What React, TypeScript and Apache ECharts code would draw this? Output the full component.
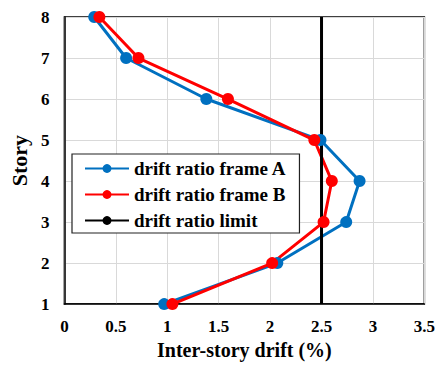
import React, { useEffect, useRef } from "react";
import * as echarts from "echarts";

const stories = [1, 2, 3, 4, 5, 6, 7, 8];
const driftA = [0.97, 2.07, 2.74, 2.87, 2.49, 1.38, 0.6, 0.29];
const driftB = [1.05, 2.02, 2.52, 2.6, 2.43, 1.59, 0.72, 0.34];
const limitX = [2.5, 2.5];
const limitY = [1, 8];
const xTicks = ["0", "0.5", "1", "1.5", "2", "2.5", "3", "3.5"];

const FONT = "Liberation Serif";

export default function App() {
  const ref = useRef<HTMLDivElement>(null);
  useEffect(() => {
    if (!ref.current) return;
    const chart = echarts.init(ref.current, null, { renderer: "svg" });
    const pair = (xs: number[], ys: number[]) => xs.map((x, i) => [x, ys[i]]);
    chart.setOption({
      animation: false,
      backgroundColor: "#ffffff",
      textStyle: { fontFamily: FONT },
      grid: {
        left: 58,
        right: 12,
        top: 17,
        bottom: 56,
        show: true,
        borderColor: "#000000",
        borderWidth: 1.5,
        backgroundColor: "transparent",
      },
      xAxis: {
        type: "value",
        min: 0,
        max: 3.5,
        interval: 0.5,
        name: "Inter-story drift (%)",
        nameLocation: "middle",
        nameGap: 34,
        nameTextStyle: { fontFamily: FONT, fontWeight: "bold", fontSize: 20, color: "#000" },
        axisLine: { show: true, lineStyle: { color: "#000", width: 1.5 } },
        axisTick: { show: false },
        splitLine: { show: true, lineStyle: { color: "#d9d9d9", width: 1 } },
        axisLabel: {
          margin: 14,
          fontFamily: FONT,
          fontWeight: "bold",
          fontSize: 17,
          color: "#000",
          formatter: (v: number) => xTicks[Math.round(v / 0.5)] ?? String(v),
        },
      },
      yAxis: {
        type: "value",
        min: 1,
        max: 8,
        interval: 1,
        name: "Story",
        nameLocation: "middle",
        nameGap: 33,
        nameRotate: 90,
        nameTextStyle: { fontFamily: FONT, fontWeight: "bold", fontSize: 22, color: "#000" },
        axisLine: { show: true, lineStyle: { color: "#000", width: 1.5 } },
        axisTick: { show: false },
        splitLine: { show: true, lineStyle: { color: "#d9d9d9", width: 1 } },
        axisLabel: {
          margin: 15,
          fontFamily: FONT,
          fontWeight: "bold",
          fontSize: 17,
          color: "#000",
        },
      },
      legend: {
        orient: "vertical",
        left: 72,
        top: 154,
        padding: [5, 13, 3, 12],
        itemGap: 7,
        itemWidth: 44,
        itemHeight: 11,
        backgroundColor: "#ffffff",
        borderColor: "#222222",
        borderWidth: 1.2,
        borderRadius: 0,
        textStyle: { fontFamily: FONT, fontWeight: "bold", fontSize: 19, color: "#000" },
        data: ["drift ratio frame A", "drift ratio frame B", "drift ratio limit"],
      },
      series: [
        {
          name: "drift ratio frame A",
          type: "line",
          data: pair(driftA, stories),
          color: "#0070C0",
          symbol: "circle",
          symbolSize: 12,
          lineStyle: { width: 3, color: "#0070C0" },
          itemStyle: { color: "#0070C0" },
        },
        {
          name: "drift ratio frame B",
          type: "line",
          data: pair(driftB, stories),
          color: "#FF0000",
          symbol: "circle",
          symbolSize: 12,
          lineStyle: { width: 3, color: "#FF0000" },
          itemStyle: { color: "#FF0000" },
        },
        {
          name: "drift ratio limit",
          type: "line",
          data: pair(limitX, limitY),
          color: "#000000",
          symbol: "none",
          lineStyle: { width: 3, color: "#000000" },
        },
      ],
    });
    return () => chart.dispose();
  }, []);
  return <div ref={ref} style={{ width: 438, height: 365, position: "absolute", left: 0, top: 0 }} />;
}
